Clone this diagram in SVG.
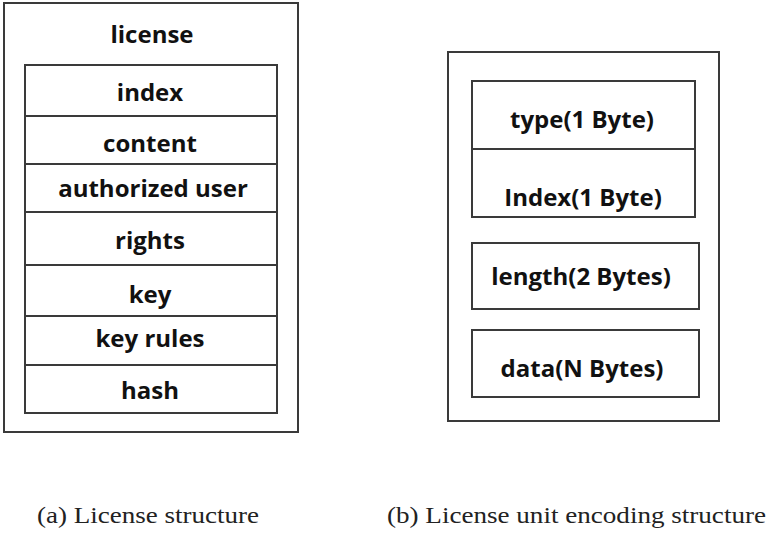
<svg xmlns="http://www.w3.org/2000/svg" width="770" height="534" viewBox="0 0 770 534">
<style>
.box{fill:#fff;stroke:#3a3a3a;stroke-width:2}
.ln{stroke:#3a3a3a;stroke-width:2}
.t{font-family:"Open Sans","Noto Sans","DejaVu Sans",sans-serif;font-weight:bold;font-size:24px;fill:#111;text-anchor:middle}
.c{font-family:"Liberation Serif","DejaVu Serif",serif;font-size:23px;fill:#222}
</style>
<rect width="770" height="534" fill="#fff"/>
<g id="license">
<rect class="box" x="4" y="3" width="294" height="429"/>
<text class="t" x="152" y="43">license</text>
</g>
<g id="license-table">
<rect class="box" x="25" y="65" width="252" height="348"/>
<line class="ln" x1="25" y1="116" x2="277" y2="116"/>
<line class="ln" x1="25" y1="164" x2="277" y2="164"/>
<line class="ln" x1="25" y1="212" x2="277" y2="212"/>
<line class="ln" x1="25" y1="265" x2="277" y2="265"/>
<line class="ln" x1="25" y1="316" x2="277" y2="316"/>
<line class="ln" x1="25" y1="365" x2="277" y2="365"/>
<text class="t" x="150" y="101">index</text>
<text class="t" x="150" y="152">content</text>
<text class="t" x="153" y="197">authorized user</text>
<text class="t" x="150" y="249">rights</text>
<text class="t" x="150" y="303">key</text>
<text class="t" x="150" y="347">key rules</text>
<text class="t" x="150" y="399">hash</text>
</g>
<g id="unit">
<rect class="box" x="448" y="52" width="271" height="369"/>
</g>
<g id="type-index">
<rect class="box" x="472" y="81" width="223" height="136"/>
<line class="ln" x1="472" y1="149" x2="695" y2="149"/>
<text class="t" x="582" y="128">type(1 Byte)</text>
<text class="t" x="583" y="206">Index(1 Byte)</text>
</g>
<g id="length">
<rect class="box" x="472" y="243" width="227" height="66"/>
<text class="t" x="581" y="285">length(2 Bytes)</text>
</g>
<g id="data">
<rect class="box" x="472" y="330" width="227" height="67"/>
<text class="t" x="582" y="377">data(N Bytes)</text>
</g>
<g id="captions">
<text class="c" x="37" y="523" textLength="222" lengthAdjust="spacingAndGlyphs">(a) License structure</text>
<text class="c" x="387" y="523" textLength="379" lengthAdjust="spacingAndGlyphs">(b) License unit encoding structure</text>
</g>
</svg>
